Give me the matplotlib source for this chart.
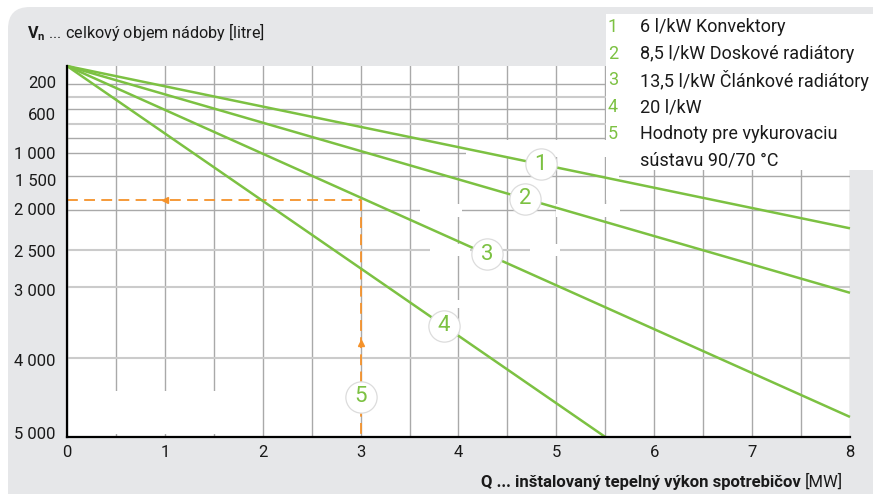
import numpy as np
import matplotlib
matplotlib.use("Agg")
import matplotlib.pyplot as plt
from matplotlib.patches import FancyBboxPatch, Rectangle

# ---------------- data ----------------
Q_TICKS = [0, 1, 2, 3, 4, 5, 6, 7, 8]
V_TICKS = [200, 600, 1000, 1500, 2000, 2500, 3000, 4000, 5000]
V_TICK_LABELS = ["200", "600", "1 000", "1 500", "2 000", "2 500", "3 000", "4 000", "5 000"]

Q_LINE_1 = [0, 8]
V_LINE_1 = [0, 2230]
Q_LINE_2 = [0, 8]
V_LINE_2 = [0, 3040]
Q_LINE_3 = [0, 8]
V_LINE_3 = [0, 4780]
Q_LINE_4 = [0, 5.5]
V_LINE_4 = [0, 5050]

LINE_LABELS = ["1", "2", "3", "4"]
LINE_LABEL_Q = [4.84, 4.68, 4.29, 3.85]

EXAMPLE_Q = 3.0
EXAMPLE_V = 1850
EXAMPLE_ARROW_Q = 1.0
EXAMPLE_ARROW_V = 3750
EXAMPLE_LABEL = "5"
EXAMPLE_LABEL_V = 4500

LEGEND_NUMS = ["1", "2", "3", "4", "5", ""]
LEGEND_TEXTS = ["6 l/kW Konvektory", "8,5 l/kW Doskové radiátory",
                "13,5 l/kW Článkové radiátory", "20 l/kW",
                "Hodnoty pre vykurovaciu", "sústavu 90/70 °C"]

# -------------- styling ----------------
W, H = 873, 494
GREEN = "#7cc142"
ORANGE = "#f5922a"
BG = "#e6e7e9"
GRID_DARK = "#a9a9a9"
GRID_LIGHT = "#cbcbcb"
FONT = ["Roboto", "DejaVu Sans"]

plt.rcParams["font.family"] = FONT
plt.rcParams["mathtext.fontset"] = "custom"
plt.rcParams["mathtext.rm"] = "Roboto"
plt.rcParams["mathtext.bf"] = "Roboto:bold"

fig = plt.figure(figsize=(W / 100, H / 100), dpi=100, facecolor="white")


def fx(px):
    return px / W


def fy(py):
    return 1 - py / H


# grey rounded background (only the top-left corner is visible)
bg = FancyBboxPatch((fx(8), fy(540)), fx(W + 60) - fx(8), fy(7) - fy(540),
                    boxstyle="round,pad=0,rounding_size=0.025",
                    transform=fig.transFigure, facecolor=BG, edgecolor="none",
                    zorder=-10, mutation_aspect=W / H)
fig.add_artist(bg)

ax_left, ax_right, ax_top, ax_bottom = 67, 850, 66, 437
ax = fig.add_axes([fx(ax_left), fy(ax_bottom), fx(ax_right) - fx(ax_left),
                   fy(ax_top) - fy(ax_bottom)])
ax.set_facecolor("white")

# nomogram-style irregular vertical scale (value -> pixel row of the reference)
SCALE_V = [0, 200, 600, 1000, 1500, 2000, 2500, 3000, 4000, 5000, 5050]
SCALE_P = [66, 82, 114, 153, 180, 209, 251, 290, 360, 433, 437]


def fwd(v):
    return np.interp(v, SCALE_V, SCALE_P)


def inv(p):
    return np.interp(p, SCALE_P, SCALE_V)


ax.set_yscale("function", functions=(fwd, inv))
ax.set_xlim(0, 8)
ax.set_ylim(5050, 0)

ax.set_xticks(Q_TICKS)
ax.set_xticks(np.arange(0.5, 8.01, 0.5), minor=True)
ax.set_yticks(V_TICKS, V_TICK_LABELS)
ax.yaxis.set_minor_locator(matplotlib.ticker.NullLocator())
ax.tick_params(axis="both", which="both", length=0)
ax.tick_params(axis="y", pad=8, labelsize=12, labelcolor="#1a1a1a")
ax.tick_params(axis="x", pad=6, labelsize=12, labelcolor="#1a1a1a")

for s in ["top", "right"]:
    ax.spines[s].set_visible(False)
for s in ["left", "bottom"]:
    ax.spines[s].set_color("black")
    ax.spines[s].set_linewidth(1.6)
    ax.spines[s].set_zorder(5)

ax.set_axisbelow(True)
ax.grid(axis="x", which="both", color=GRID_DARK, linewidth=1.0, zorder=0.5)

# horizontal grid rows (pixel rows of the reference drawing)
for py, style in [(84.5, "d"), (97, "l"), (109, "d"), (124, "l"), (138, "d"),
                  (153.5, "d"), (176, "d"), (210, "d"), (250, "l"),
                  (286.5, "l"), (358, "l")]:
    f = (ax_bottom - py) / (ax_bottom - ax_top)
    ax.plot([0, 1], [f, f], transform=ax.transAxes,
            color=GRID_DARK if style == "d" else GRID_LIGHT,
            lw=1.0 if style == "d" else 1.5, zorder=0.6)

# white masks behind the line labels (as in the reference)
for x0, y0, x1, y1 in [(70, 391, 258, 434), (466, 140, 606, 157),
                       (606, 170, 619, 200), (420, 204, 462, 217),
                       (556, 204, 620, 217), (430, 244, 470, 256),
                       (530, 244, 560, 256), (455, 300, 462, 308)]:
    ax.add_patch(Rectangle((fx(x0), fy(y1)), fx(x1) - fx(x0), fy(y0) - fy(y1),
                           transform=fig.transFigure, facecolor="white",
                           edgecolor="none", zorder=1))

# example (orange dashed)
dash = dict(color=ORANGE, lw=1.3, dashes=(6, 3.5), zorder=2)
ax.plot([0, EXAMPLE_Q], [EXAMPLE_V, EXAMPLE_V], **dash)
ax.plot([EXAMPLE_Q, EXAMPLE_Q], [EXAMPLE_V, 5050], clip_on=False, **dash)
ax.plot([EXAMPLE_ARROW_Q], [EXAMPLE_V], marker="<", ms=4.5, color=ORANGE, zorder=2)
ax.plot([EXAMPLE_Q], [EXAMPLE_ARROW_V], marker="^", ms=4.5, color=ORANGE, zorder=2)

# main lines
lines = [(Q_LINE_1, V_LINE_1), (Q_LINE_2, V_LINE_2), (Q_LINE_3, V_LINE_3),
         (Q_LINE_4, V_LINE_4)]
for q, v in lines:
    ax.plot(q, v, color=GREEN, lw=1.8, zorder=3, clip_on=False,
            solid_capstyle="butt")


def circle_label(x, y, s):
    ax.plot([x], [y], marker="o", ms=22.5, mfc="white", mec="#dcdcdc",
            mew=0.9, zorder=4, clip_on=False)
    ax.text(x, y, s, color=GREEN, fontsize=16, ha="center", va="center",
            zorder=4.5)


# labels placed along each straight line (in display space)
for (q, v), lab, lq in zip(lines, LINE_LABELS, LINE_LABEL_Q):
    p0 = ax.transData.transform((q[0], v[0]))
    p1 = ax.transData.transform((q[1], v[1]))
    t = (lq - q[0]) / (q[1] - q[0])
    p = p0 + t * (p1 - p0)
    xd, yd = ax.transData.inverted().transform(p)
    circle_label(xd, yd, lab)

circle_label(EXAMPLE_Q, EXAMPLE_LABEL_V, EXAMPLE_LABEL)

# axis titles
fig.text(fx(27), fy(32), r"$\mathbf{V_n}$ ... celkový objem nádoby [litre]",
         fontsize=11.6, ha="left", va="center", color="#1a1a1a")
mw = fig.text(fx(843), fy(482), "[MW]", fontsize=12, ha="right", va="center",
              color="#1a1a1a")
ax.annotate("Q ... inštalovaný tepelný výkon spotrebičov ", xy=(0, 0.5),
            xycoords=mw, ha="right", va="center", fontsize=12,
            fontweight="bold", color="#1a1a1a", annotation_clip=False)

# legend box
fig.add_artist(Rectangle((fx(606), fy(170)), fx(W) - fx(606), fy(14) - fy(170),
                         transform=fig.transFigure, facecolor="white",
                         edgecolor="none", zorder=5))
for i, (n, t) in enumerate(zip(LEGEND_NUMS, LEGEND_TEXTS)):
    yy = fy(27 + i * 26.7)
    fig.text(fx(613), yy, n, color=GREEN, fontsize=13, ha="center",
             va="center", zorder=6)
    fig.text(fx(640), yy, t, color="#1a1a1a", fontsize=13, ha="left",
             va="center", zorder=6)

fig.savefig("out.png", dpi=100, facecolor="white")
